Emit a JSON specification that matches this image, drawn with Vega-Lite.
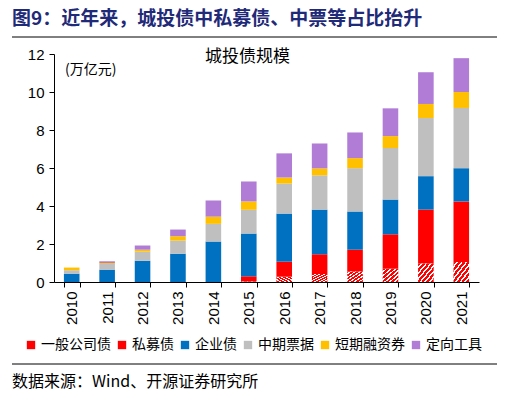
{
  "$schema": "https://vega.github.io/schema/vega-lite/v6.json",
  "width": 425,
  "height": 228,
  "autosize": "none",
  "padding": {"left": 54, "top": 54, "right": 28, "bottom": 116},
  "background": "white",
  "config": {"view": {"stroke": null}},
  "layer": [
    {
      "data": {
        "values": [
          {"year": "2010", "type": "企业债", "value": 0.44},
          {"year": "2010", "type": "中期票据", "value": 0.18},
          {"year": "2010", "type": "短期融资券", "value": 0.14},
          {"year": "2011", "type": "企业债", "value": 0.65},
          {"year": "2011", "type": "中期票据", "value": 0.30},
          {"year": "2011", "type": "短期融资券", "value": 0.05},
          {"year": "2011", "type": "定向工具", "value": 0.09},
          {"year": "2012", "type": "企业债", "value": 1.12},
          {"year": "2012", "type": "中期票据", "value": 0.48},
          {"year": "2012", "type": "短期融资券", "value": 0.10},
          {"year": "2012", "type": "定向工具", "value": 0.22},
          {"year": "2013", "type": "企业债", "value": 1.49},
          {"year": "2013", "type": "中期票据", "value": 0.69},
          {"year": "2013", "type": "短期融资券", "value": 0.23},
          {"year": "2013", "type": "定向工具", "value": 0.35},
          {"year": "2014", "type": "企业债", "value": 2.13},
          {"year": "2014", "type": "中期票据", "value": 0.93},
          {"year": "2014", "type": "短期融资券", "value": 0.38},
          {"year": "2014", "type": "定向工具", "value": 0.85},
          {"year": "2015", "type": "一般公司债", "value": 0.03},
          {"year": "2015", "type": "私募债", "value": 0.27},
          {"year": "2015", "type": "企业债", "value": 2.25},
          {"year": "2015", "type": "中期票据", "value": 1.25},
          {"year": "2015", "type": "短期融资券", "value": 0.44},
          {"year": "2015", "type": "定向工具", "value": 1.05},
          {"year": "2016", "type": "一般公司债", "value": 0.28},
          {"year": "2016", "type": "私募债", "value": 0.79},
          {"year": "2016", "type": "企业债", "value": 2.53},
          {"year": "2016", "type": "中期票据", "value": 1.58},
          {"year": "2016", "type": "短期融资券", "value": 0.32},
          {"year": "2016", "type": "定向工具", "value": 1.27},
          {"year": "2017", "type": "一般公司债", "value": 0.42},
          {"year": "2017", "type": "私募债", "value": 1.04},
          {"year": "2017", "type": "企业债", "value": 2.35},
          {"year": "2017", "type": "中期票据", "value": 1.80},
          {"year": "2017", "type": "短期融资券", "value": 0.37},
          {"year": "2017", "type": "定向工具", "value": 1.31},
          {"year": "2018", "type": "一般公司债", "value": 0.56},
          {"year": "2018", "type": "私募债", "value": 1.14},
          {"year": "2018", "type": "企业债", "value": 2.01},
          {"year": "2018", "type": "中期票据", "value": 2.28},
          {"year": "2018", "type": "短期融资券", "value": 0.53},
          {"year": "2018", "type": "定向工具", "value": 1.35},
          {"year": "2019", "type": "一般公司债", "value": 0.70},
          {"year": "2019", "type": "私募债", "value": 1.81},
          {"year": "2019", "type": "企业债", "value": 1.83},
          {"year": "2019", "type": "中期票据", "value": 2.71},
          {"year": "2019", "type": "短期融资券", "value": 0.63},
          {"year": "2019", "type": "定向工具", "value": 1.46},
          {"year": "2020", "type": "一般公司债", "value": 0.98},
          {"year": "2020", "type": "私募债", "value": 2.83},
          {"year": "2020", "type": "企业债", "value": 1.76},
          {"year": "2020", "type": "中期票据", "value": 3.06},
          {"year": "2020", "type": "短期融资券", "value": 0.74},
          {"year": "2020", "type": "定向工具", "value": 1.67},
          {"year": "2021", "type": "一般公司债", "value": 1.05},
          {"year": "2021", "type": "私募债", "value": 3.19},
          {"year": "2021", "type": "企业债", "value": 1.75},
          {"year": "2021", "type": "中期票据", "value": 3.17},
          {"year": "2021", "type": "短期融资券", "value": 0.84},
          {"year": "2021", "type": "定向工具", "value": 1.78}
        ]
      },
      "transform": [
        {"calculate": "indexof(['一般公司债', '私募债', '企业债', '中期票据', '短期融资券', '定向工具'], datum.type)", "as": "k"}
      ],
      "mark": {"type": "bar"},
      "encoding": {
        "x": {
          "field": "year", "type": "ordinal",
          "scale": {"paddingInner": 0.56, "paddingOuter": 0.28},
          "axis": {
            "title": null, "labelAngle": -90, "tickBand": "extent",
            "labelFont": "Liberation Sans", "labelFontSize": 15, "labelColor": "black",
            "domainColor": "black", "tickColor": "black", "tickSize": 5, "labelPadding": 4,
            "grid": false
          }
        },
        "y": {
          "field": "value", "type": "quantitative", "stack": "zero",
          "scale": {"domain": [0, 12], "nice": false},
          "axis": {
            "title": null, "values": [0, 2, 4, 6, 8, 10, 12], "grid": false,
            "labelFont": "Liberation Sans", "labelFontSize": 15, "labelColor": "black",
            "domainColor": "black", "tickColor": "black", "tickSize": 5, "labelPadding": 5
          }
        },
        "order": {"field": "k", "type": "quantitative", "sort": "ascending"},
        "color": {
          "condition": {
            "test": "datum.type === '一般公司债'",
            "value": {
              "gradient": "linear", "x1": 0, "y1": 0, "x2": 1, "y2": 1,
              "stops": [
                {"offset": 0, "color": "#ff0000"}, {"offset": 0.09, "color": "#ff0000"},
                {"offset": 0.09, "color": "#ffffff"}, {"offset": 0.15, "color": "#ffffff"},
                {"offset": 0.15, "color": "#ff0000"}, {"offset": 0.24, "color": "#ff0000"},
                {"offset": 0.24, "color": "#ffffff"}, {"offset": 0.30, "color": "#ffffff"},
                {"offset": 0.30, "color": "#ff0000"}, {"offset": 0.39, "color": "#ff0000"},
                {"offset": 0.39, "color": "#ffffff"}, {"offset": 0.45, "color": "#ffffff"},
                {"offset": 0.45, "color": "#ff0000"}, {"offset": 0.54, "color": "#ff0000"},
                {"offset": 0.54, "color": "#ffffff"}, {"offset": 0.60, "color": "#ffffff"},
                {"offset": 0.60, "color": "#ff0000"}, {"offset": 0.69, "color": "#ff0000"},
                {"offset": 0.69, "color": "#ffffff"}, {"offset": 0.75, "color": "#ffffff"},
                {"offset": 0.75, "color": "#ff0000"}, {"offset": 0.84, "color": "#ff0000"},
                {"offset": 0.84, "color": "#ffffff"}, {"offset": 0.90, "color": "#ffffff"},
                {"offset": 0.90, "color": "#ff0000"}, {"offset": 1, "color": "#ff0000"}
              ]
            }
          },
          "field": "type", "type": "nominal",
          "sort": ["一般公司债", "私募债", "企业债", "中期票据", "短期融资券", "定向工具"],
          "scale": {
            "domain": ["一般公司债", "私募债", "企业债", "中期票据", "短期融资券", "定向工具"],
            "range": ["#ff0000", "#ff0000", "#0070c0", "#bfbfbf", "#ffc000", "#b07cd6"]
          },
          "legend": {
            "title": null, "orient": "none", "legendX": -30, "legendY": 284,
            "direction": "horizontal", "columns": 6, "columnPadding": 4,
            "symbolType": "square", "symbolSize": 70, "symbolStrokeWidth": 0,
            "labelFont": "Noto Sans CJK SC", "labelFontSize": 14, "labelColor": "black",
            "labelOffset": 3
          }
        }
      }
    },
    {
      "data": {"values": [{"t": "图9：近年来，城投债中私募债、中票等占比抬升"}]},
      "mark": {"type": "text", "align": "left", "baseline": "middle", "font": "Noto Sans CJK SC", "fontSize": 19, "fontWeight": "bold", "color": "#1f2a78"},
      "encoding": {"text": {"field": "t"}, "x": {"value": -42}, "y": {"value": -35}}
    },
    {
      "data": {"values": [{"t": "(万亿元)"}]},
      "mark": {"type": "text", "align": "left", "baseline": "middle", "font": "Noto Sans CJK SC", "fontSize": 14, "color": "black"},
      "encoding": {"text": {"field": "t"}, "x": {"value": 11}, "y": {"value": 16}}
    },
    {
      "data": {"values": [{"t": "城投债规模"}]},
      "mark": {"type": "text", "align": "left", "baseline": "middle", "font": "Noto Sans CJK SC", "fontSize": 17, "color": "black"},
      "encoding": {"text": {"field": "t"}, "x": {"value": 151}, "y": {"value": 3}}
    },
    {
      "data": {"values": [{"t": "数据来源：Wind、开源证券研究所"}]},
      "mark": {"type": "text", "align": "left", "baseline": "middle", "font": "Noto Sans CJK SC", "fontSize": 16, "color": "black"},
      "encoding": {"text": {"field": "t"}, "x": {"value": -42}, "y": {"value": 328}}
    },
    {
      "data": {"values": [{"k": "top"}]},
      "mark": {"type": "rule", "color": "black", "strokeWidth": 1},
      "encoding": {"x": {"value": -42}, "x2": {"value": 443}, "y": {"value": -17}}
    },
    {
      "data": {"values": [{"k": "bottom"}]},
      "mark": {"type": "rule", "color": "black", "strokeWidth": 1},
      "encoding": {"x": {"value": -42}, "x2": {"value": 443}, "y": {"value": 310}}
    }
  ]
}
